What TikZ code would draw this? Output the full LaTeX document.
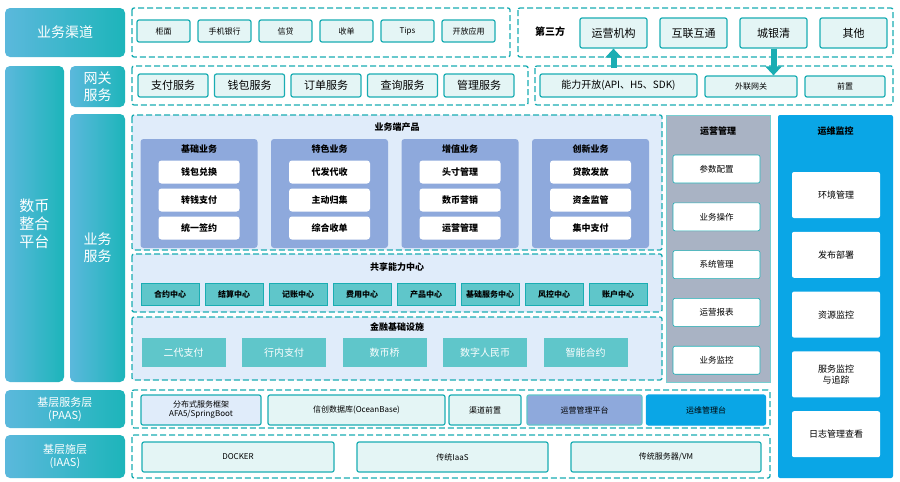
\documentclass[tikz,border=0pt]{standalone}
\usepackage{fontspec}
\setmainfont{Noto Sans CJK SC}
\usetikzlibrary{positioning,calc,arrows.meta}

\definecolor{teal1}{HTML}{1AADB3}
\definecolor{tealL}{HTML}{E4F5F5}
\definecolor{blueL}{HTML}{E0ECFA}
\definecolor{grpB}{HTML}{8EA9DC}
\definecolor{opsG}{HTML}{A9B3C4}
\definecolor{skyB}{HTML}{0AA6E6}
\definecolor{leftA}{HTML}{5BB8DC}
\definecolor{leftB}{HTML}{1DB5BA}

\tikzset{
  side/.style={rounded corners=5pt, left color=leftA, right color=leftB, draw=none,
    text=white, font=\fontsize{14}{17}\selectfont, align=center, inner sep=0pt},
  dashbox/.style={draw=teal1, line width=1.3pt, dash pattern=on 6pt off 3pt, rounded corners=2pt},
  item/.style={draw=teal1, line width=1.2pt, fill=tealL, rounded corners=2pt,
    font=\fontsize{8}{9}\selectfont, inner sep=0pt},
  gw/.style={item, font=\fontsize{11}{13}\selectfont},
  wbox/.style={fill=white, rounded corners=3pt, font=\bfseries\fontsize{9}{10}\selectfont, inner sep=0pt,
    minimum width=81pt, minimum height=23pt},
  grp/.style={fill=grpB, rounded corners=3pt, inner sep=0pt},
  title/.style={font=\bfseries\fontsize{9}{11}\selectfont},
  side item/.style={fill=white, draw=teal1, line width=0.6pt, rounded corners=2pt,
    font=\fontsize{8.5}{10}\selectfont, inner sep=0pt, align=center},
}

\begin{document}
\begin{tikzpicture}[x=1pt, y=-1pt]
    \useasboundingbox (0,0) rectangle (900,482);
    \fill[white] (0,0) rectangle (900,482);

    % left column
    \node[side, minimum width=120pt, minimum height=49pt] (chan) at (65,32.5) {业务渠道};
    \node[side, minimum width=59pt, minimum height=316pt, font=\fontsize{15}{18}\selectfont] (plat) at (34.5,224) {数币\\整合\\平台};
    \node[side, minimum width=55pt, minimum height=41pt] (gwt) at (97.5,86.5) {网关\\服务};
    \node[side, minimum width=55pt, minimum height=268pt] (bizt) at (97.5,248) {业务\\服务};
    \node[side, minimum width=120pt, minimum height=38pt, font=\fontsize{11}{13}\selectfont] (paas) at (65,409) {基层服务层\\(PAAS)};
    \node[side, minimum width=120pt, minimum height=43pt, font=\fontsize{11}{13}\selectfont] (iaas) at (65,456.5) {基层施层\\(IAAS)};

    % channels
    \draw[dashbox] (132,8) rectangle (510,57);
    \foreach \t [count=\i] in {柜面,手机银行,信贷,收单,Tips,开放应用}
        \node[item, minimum width=53pt, minimum height=22pt] (ch\i) at (163.5+\i*61-61,31) {\t};

    % third party
    \draw[dashbox] (518,8) rectangle (893,57);
    \node[font=\bfseries\fontsize{10}{11}\selectfont] (tp) at (550,32) {第三方};
    \foreach \t/\n [count=\i] in {运营机构/op,互联互通/hl,城银清/cy,其他/qt}
        \node[item, font=\fontsize{11}{13}\selectfont, minimum width=67pt, minimum height=30pt]
            (\n) at (613.5+\i*80-80,33) {\t};

    % gateway
    \draw[dashbox] (132,66) rectangle (528,105);
    \foreach \t [count=\i] in {支付服务,钱包服务,订单服务,查询服务,管理服务}
        \node[gw, minimum width=70pt, minimum height=23pt] (gw\i) at (173+\i*76.5-76.5,85.5) {\t};
    \draw[dashbox] (535,66) rectangle (893,105);
    \node[gw, font=\fontsize{10}{12}\selectfont, minimum width=157pt, minimum height=23pt] (cap) at (618.5,85.5) {能力开放(API、H5、SDK)};
    \node[item, minimum width=92pt, minimum height=21pt] (wl) at (751,86.5) {外联网关};
    \node[item, minimum width=80pt, minimum height=21pt] (qz) at (845,86.5) {前置};

    \coordinate (upS) at (op.south |- 0,68);
    \coordinate (dnE) at (cy.south |- wl.north);
    \draw[teal1, line width=6pt, -{Triangle[width=16pt,length=9pt]}] (upS) -- (op.south);
    \draw[teal1, line width=6pt, -{Triangle[width=16pt,length=9pt]}] (cy.south) -- (dnE);

    % business products
    \draw[dashbox, fill=blueL] (132,115) rectangle (662,250);
    \node[title] (prod) at (397,127) {业务端产品};
    \foreach \g/\a/\b/\c [count=\i] in {基础业务/钱包兑换/转钱支付/统一签约,
                                         特色业务/代发代收/主动归集/综合收单,
                                         增值业务/头寸管理/数币营销/运营管理,
                                         创新业务/贷款发放/资金监管/集中支付}{
        \node[grp, minimum width=117pt, minimum height=109pt] (g\i) at (199+\i*130.5-130.5,193.5) {};
        \node[title] at (199+\i*130.5-130.5,149) {\g};
        \node[wbox] (g\i a) at (199+\i*130.5-130.5,172) {\a};
        \node[wbox] (g\i b) at (199+\i*130.5-130.5,200) {\b};
        \node[wbox] (g\i c) at (199+\i*130.5-130.5,228) {\c};
    }

    % shared capability
    \draw[dashbox, fill=blueL] (132,254) rectangle (662,312);
    \node[title] (share) at (397,267) {共享能力中心};
    \foreach \t [count=\i] in {合约中心,结算中心,记账中心,费用中心,产品中心,基础服务中心,风控中心,账户中心}
        \node[fill=teal1!70, draw=teal1, font=\bfseries\fontsize{8}{9}\selectfont, inner sep=0pt,
            minimum width=58pt, minimum height=22pt] (s\i) at (170+\i*64-64,294.5) {\t};

    % financial infrastructure
    \draw[dashbox, fill=blueL] (132,317) rectangle (662,380);
    \node[title] (fin) at (397,327) {金融基础设施};
    \foreach \t [count=\i] in {二代支付,行内支付,数币桥,数字人民币,智能合约}
        \node[fill=teal1!70, text=white, font=\fontsize{10}{11}\selectfont, inner sep=0pt,
            minimum width=84pt, minimum height=29pt] (f\i) at (183.5+\i*100.5-100.5,352.5) {\t};

    % operations
    \node[fill=opsG, draw=teal1!60, line width=1pt, minimum width=104pt, minimum height=267pt, inner sep=0pt] (ops) at (718,248.5) {};
    \node[title] at (718,131) {运营管理};
    \foreach \t [count=\i] in {参数配置,业务操作,系统管理,运营报表,业务监控}
        \node[side item, minimum width=87pt, minimum height=28pt] (o\i) at (716.5,169+\i*47.8-47.8) {\t};

    % monitoring
    \node[fill=skyB, rounded corners=2pt, minimum width=115pt, minimum height=363pt, inner sep=0pt] (mon) at (835.5,296.5) {};
    \node[title] at (835.5,131) {运维监控};
    \foreach \t [count=\i] in {环境管理,发布部署,资源监控,服务监控\\与追踪,日志管理查看}
        \node[side item, draw=none, minimum width=88pt, minimum height=46pt, font=\fontsize{9}{11}\selectfont] (m\i) at (836,195+\i*59.8-59.8) {\t};

    % PAAS
    \draw[dashbox] (132,390) rectangle (770,428);
    \node[item, fill=blueL, align=center, font=\fontsize{8}{9}\selectfont, minimum width=120pt, minimum height=30pt] (p1) at (201,410) {分布式服务框架\\AFA5/SpringBoot};
    \node[item, minimum width=177pt, minimum height=30pt] (p2) at (356.5,410) {信创数据库(OceanBase)};
    \node[item, minimum width=72pt, minimum height=30pt] (p3) at (485,410) {渠道前置};
    \node[item, fill=grpB, draw=teal1!70, minimum width=115pt, minimum height=30pt] (p4) at (584.5,410) {运营管理平台};
    \node[item, fill=skyB, draw=skyB, minimum width=119pt, minimum height=30pt] (p5) at (706,410) {运维管理台};

    % IAAS
    \draw[dashbox] (132,435) rectangle (770,478);
    \node[item, minimum width=192pt, minimum height=30pt] (i1) at (238,457) {DOCKER};
    \node[item, minimum width=191pt, minimum height=30pt] (i2) at (452.5,457) {传统IaaS};
    \node[item, minimum width=190pt, minimum height=30pt] (i3) at (666,457) {传统服务器/VM};
\end{tikzpicture}
\end{document}
